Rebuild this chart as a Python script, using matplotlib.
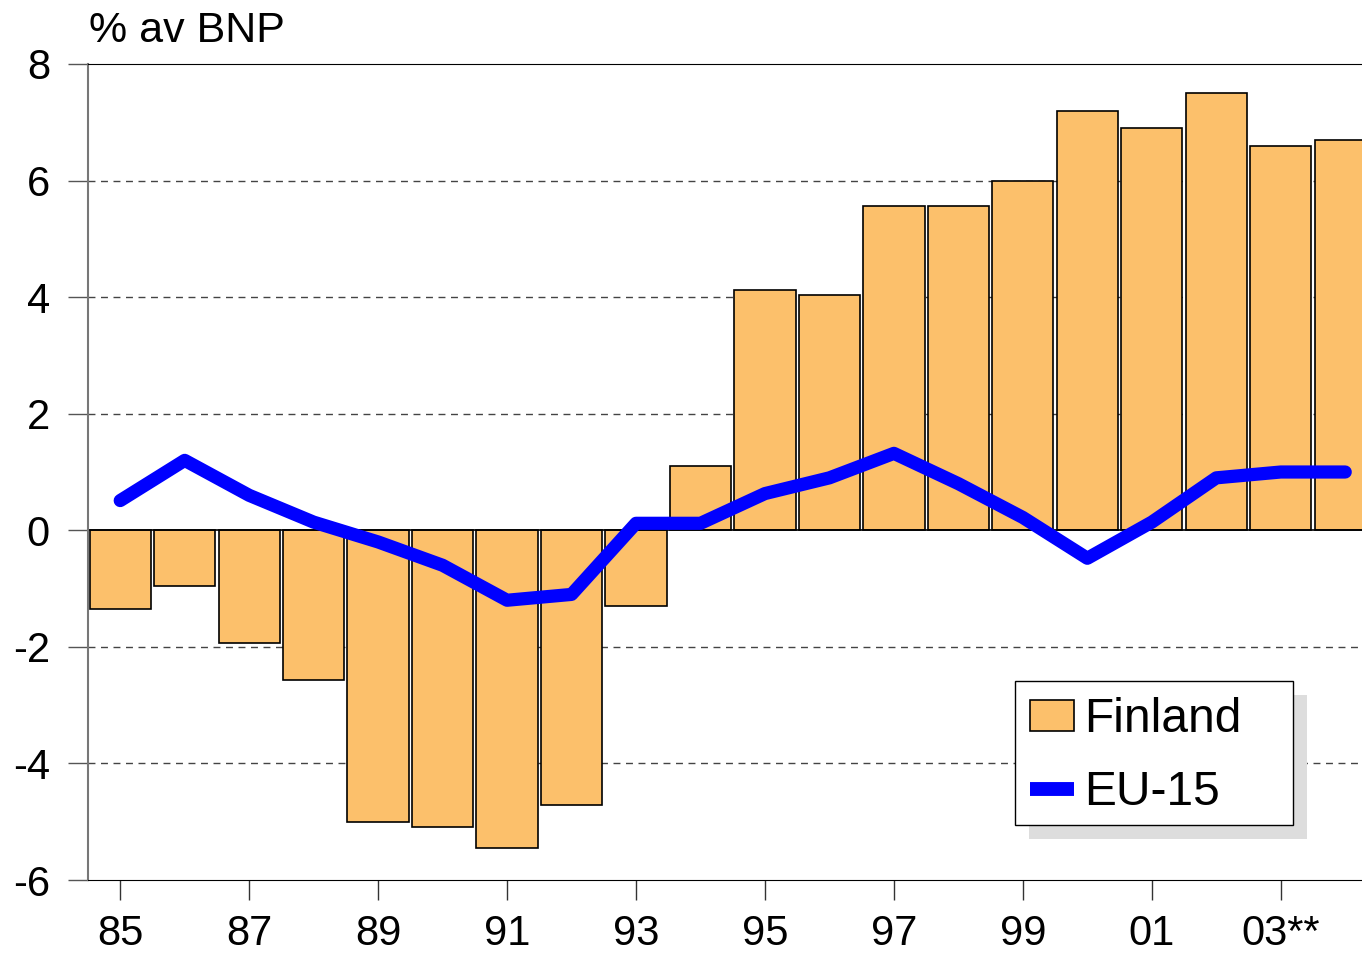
import matplotlib.pyplot as plt
from matplotlib.patches import Rectangle
from matplotlib.lines import Line2D
from matplotlib.transforms import IdentityTransform
import numpy as np

plt.rcParams['font.family'] = ['Liberation Sans', 'DejaVu Sans']

# data
years = np.arange(85, 105)
finland = [-1.35, -0.96, -1.94, -2.56, -5.01, -5.09, -5.45, -4.72, -1.30, 1.10,
           4.12, 4.03, 5.57, 5.57, 5.99, 7.19, 6.90, 7.50, 6.59, 6.69]
eu15 = [0.51, 1.20, 0.60, 0.14, -0.20, -0.60, -1.20, -1.10, 0.12, 0.12,
        0.63, 0.90, 1.32, 0.80, 0.22, -0.48, 0.14, 0.90, 1.00, 1.00]
tick_years = np.arange(85, 104, 2)
tick_labels = ['85', '87', '89', '91', '93', '95', '97', '99', '01', '03**']

fig = plt.figure(figsize=(13.62, 9.55), dpi=100)
ax = fig.add_axes([0.0646, 0.0785, 0.9354, 0.8545])

bars = ax.bar(years, finland, width=0.95, color='#FCC06B', edgecolor='black',
              linewidth=1.2, label='Finland', zorder=2)
ax.plot(years, eu15, color='#0000FF', linewidth=9.5, solid_capstyle='round',
        solid_joinstyle='round', label='EU-15', zorder=3)

ax.set_xlim(84.5, 104.26)
ax.set_ylim(-6, 8)
ax.set_yticks(range(-6, 9, 2))
ax.set_yticklabels([str(v) for v in range(-6, 9, 2)])
ax.set_xticks(tick_years)
ax.set_xticklabels(tick_labels)

for v in [-4, -2, 2, 4, 6]:
    ax.axhline(v, color='#444444', linewidth=1, linestyle=(0, (5, 4)), zorder=1)
ax.axhline(0, color='black', linewidth=1.2, zorder=2.5)

ax.spines['right'].set_visible(False)
ax.spines['top'].set_color('black')
ax.spines['bottom'].set_color('black')
ax.spines['left'].set_color('#777777')
ax.spines['left'].set_linewidth(1.5)

ax.tick_params(axis='y', direction='out', length=14.4, width=1, color='#555555',
               pad=13, labelsize=30)
ax.tick_params(axis='x', direction='out', length=14.4, width=1, color='#333333',
               pad=10, labelsize=30)

fig.text(0.065, 0.968, '% av BNP', fontsize=31, ha='left', va='center')

# legend box with a flat grey shadow (drawn by hand, pixel units)
box_x, box_y, box_w, box_h = 1015, 130, 278, 144
shadow = Rectangle((box_x + 14, box_y - 14), box_w, box_h, transform=IdentityTransform(),
                   facecolor='#DDDDDD', edgecolor='none', zorder=8, clip_on=False)
frame = Rectangle((box_x, box_y), box_w, box_h, transform=IdentityTransform(),
                  facecolor='white', edgecolor='black', linewidth=1, zorder=9, clip_on=False)
ax.add_patch(shadow)
ax.add_patch(frame)

line_handle = Line2D([], [], color='#0000FF', linewidth=10, solid_capstyle='butt')
leg = ax.legend([bars, line_handle], ['Finland', 'EU-15'], loc='center left',
                bbox_to_anchor=(box_x / 1362, (box_y + box_h / 2 - 3) / 955),
                bbox_transform=fig.transFigure, fontsize=34.5, frameon=False,
                borderaxespad=0, borderpad=0.31, handlelength=0.92, handleheight=0.62,
                handletextpad=0.22, labelspacing=0.58)
leg.set_zorder(10)

fig.savefig('out.png', dpi=100)
